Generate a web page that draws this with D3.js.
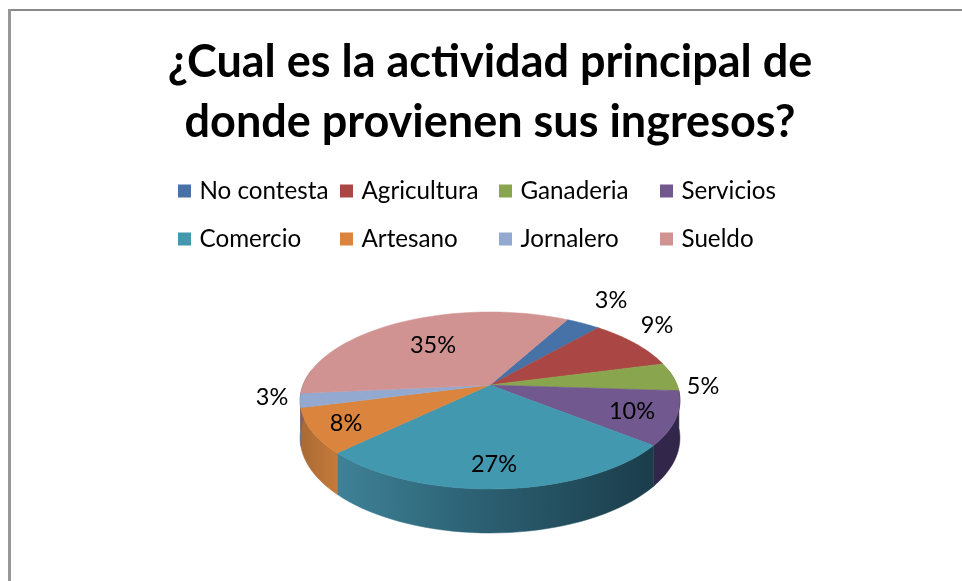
<!DOCTYPE html>
<html>
<head>
<meta charset="utf-8">
<script src="https://cdn.jsdelivr.net/npm/d3@7"></script>
<style>
html, body { margin: 0; padding: 0; background: #fff; }
text { font-family: Lato, "Open Sans", sans-serif; fill: #000; }
svg { filter: blur(0.35px); }
</style>
</head>
<body>
<div id="chart"></div>
<script>
var categories = ["No contesta", "Agricultura", "Ganaderia", "Servicios", "Comercio", "Artesano", "Jornalero", "Sueldo"];
var values = [3.49, 9.49, 5.2, 9.8, 27.0, 8.2, 2.6, 34.5];
var colors = ["#4672a8", "#aa4643", "#89a54e", "#71588f", "#4198af", "#db843d", "#93a9cf", "#d19392"];
var wallColors = ["#2c4668", "#6a2b2a", "#55662f", "#32264a", "#2b6a7d", "#b8713a", "#5d6b85", "#84605f"];
var titleLines = ["¿Cual es la actividad principal de", "donde provienen sus ingresos?"];

var width = 962, height = 581;

var svg = d3.select("#chart")
    .append("svg")
    .attr("width", width)
    .attr("height", height);

// frame of the pasted chart, open on the right and at the bottom
svg.append("path")
    .attr("d", "M8,10H962")
    .attr("stroke", "#8a8a8a")
    .attr("stroke-width", 2);

svg.append("path")
    .attr("d", "M9.5,9V581")
    .attr("stroke", "#979797")
    .attr("stroke-width", 3);

svg.selectAll(".title")
    .data(titleLines)
    .enter()
    .append("text")
    .attr("class", "title")
    .attr("x", 490)
    .attr("y", function(d, i) { return 77 + i * 60; })
    .attr("text-anchor", "middle")
    .attr("font-size", 45)
    .attr("font-weight", 700)
    .text(function(d) { return d; });

// legend
var legendX = d3.scaleOrdinal().domain([0, 1, 2, 3]).range([178, 340, 499, 660]);
var legendY = d3.scaleOrdinal().domain([0, 1]).range([191, 239]);

var legend = svg.selectAll(".legend")
    .data(categories)
    .enter()
    .append("g")
    .attr("class", "legend")
    .attr("transform", function(d, i) {
        return "translate(" + legendX(i % 4) + "," + legendY(Math.floor(i / 4)) + ")";
    });

legend.append("rect")
    .attr("y", -6.5)
    .attr("width", 13)
    .attr("height", 13)
    .attr("fill", function(d, i) { return colors[i]; });

legend.append("text")
    .attr("x", 21.5)
    .attr("y", 8)
    .attr("font-size", 24.2)
    .text(function(d) { return d; });

// tilted pie: apex at (490,385), nearer edge drawn bigger
var cx = 490, cy = 385, rx = 187, ry = 85.8, persp = 0.175, depth = 36.3;

function project(a, down) {
    var u = Math.sin(a), v = -Math.cos(a);
    var w = 1 - persp * v;
    return [cx + rx * u / w, cy + ry * v / w + (down ? depth / w : 0)];
}

function arcAngles(s, e) {
    return d3.range(0, 41).map(function(i) { return s + (e - s) * i / 40; });
}

var pie = d3.pie()
    .sort(null)
    .startAngle(28.5 * Math.PI / 180)
    .endAngle(388.5 * Math.PI / 180);

var slices = pie(values).map(function(d, i) {
    d.name = categories[i];
    d.i = i;
    return d;
});

var line = d3.line();
var defs = svg.append("defs");

// comercio wall gets the lit-to-dark shading
var shade = defs.append("linearGradient")
    .attr("id", "wallShade")
    .attr("gradientUnits", "userSpaceOnUse")
    .attr("x1", 336).attr("x2", 652).attr("y1", 0).attr("y2", 0);
shade.append("stop").attr("offset", "0").attr("stop-color", "#3f8298");
shade.append("stop").attr("offset", "0.45").attr("stop-color", "#2c6072");
shade.append("stop").attr("offset", "1").attr("stop-color", "#1b3d4b");

var orangeShade = defs.append("linearGradient")
    .attr("id", "orangeShade")
    .attr("gradientUnits", "userSpaceOnUse")
    .attr("x1", 300).attr("x2", 338).attr("y1", 0).attr("y2", 0);
orangeShade.append("stop").attr("offset", "0").attr("stop-color", "#a96a35");
orangeShade.append("stop").attr("offset", "1").attr("stop-color", "#c67a3a");

// side walls: only the part of each slice facing us
var wallFrom = 90 * Math.PI / 180 - Math.asin(persp);
var wallTo = 270 * Math.PI / 180 + Math.asin(persp);

svg.selectAll(".wall")
    .data(slices.filter(function(d) {
        return d.endAngle > wallFrom && d.startAngle < wallTo;
    }))
    .enter()
    .append("path")
    .attr("class", "wall")
    .attr("d", function(d) {
        var angles = arcAngles(Math.max(d.startAngle, wallFrom), Math.min(d.endAngle, wallTo));
        var upper = angles.map(function(a) { return project(a, false); });
        var lower = angles.slice().reverse().map(function(a) { return project(a, true); });
        return line(upper.concat(lower)) + "Z";
    })
    .attr("fill", function(d) {
        if (d.name == "Comercio") return "url(#wallShade)";
        if (d.name == "Artesano") return "url(#orangeShade)";
        return wallColors[d.i];
    })
    .attr("stroke", function(d) {
        return d.name == "Comercio" ? "url(#wallShade)" : (d.name == "Artesano" ? "url(#orangeShade)" : wallColors[d.i]);
    })
    .attr("stroke-width", 0.5);

svg.selectAll(".slice")
    .data(slices)
    .enter()
    .append("path")
    .attr("class", "slice")
    .attr("d", function(d) {
        var pts = arcAngles(d.startAngle, d.endAngle).map(function(a) { return project(a, false); });
        return line([[cx, cy]].concat(pts)) + "Z";
    })
    .attr("fill", function(d) { return colors[d.i]; })
    .attr("stroke", function(d) { return colors[d.i]; })
    .attr("stroke-width", 0.5);

// data labels: text position by name
var labelX = [611, 657, 703, 632, 494, 346, 272, 433];
var labelY = [308, 333, 394, 419, 472, 431, 405, 353];

svg.selectAll(".pct")
    .data(values)
    .enter()
    .append("text")
    .attr("class", "pct")
    .attr("x", function(d, i) { return labelX[i]; })
    .attr("y", function(d, i) { return labelY[i]; })
    .attr("text-anchor", "middle")
    .attr("font-size", 23.5)
    .text(function(d) { return Math.round(d) + "%"; });
</script>
</body>
</html>
